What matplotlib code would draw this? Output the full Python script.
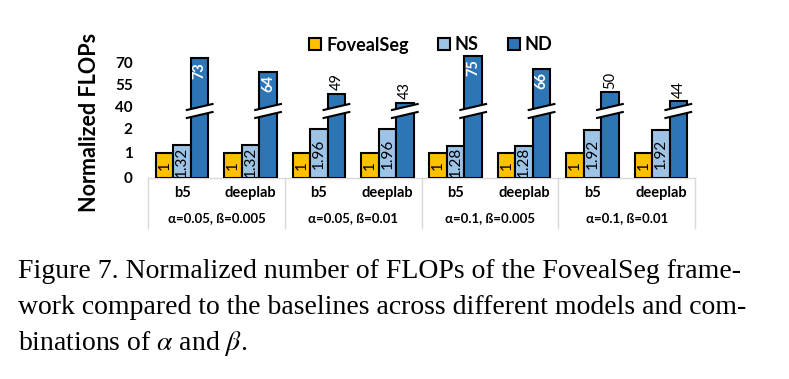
import numpy as np
import matplotlib
matplotlib.use('Agg')
import matplotlib.pyplot as plt
from matplotlib.patches import Polygon

plt.rcParams['font.family'] = ['Lato', 'DejaVu Sans']
plt.rcParams['mathtext.fontset'] = 'stix'

# Data
models = ['b5', 'deeplab', 'b5', 'deeplab', 'b5', 'deeplab', 'b5', 'deeplab']
groups = ['α=0.05, ß=0.005', 'α=0.05, ß=0.01', 'α=0.1, ß=0.005', 'α=0.1, ß=0.01']
foveal = [1, 1, 1, 1, 1, 1, 1, 1]
ns = [1.32, 1.32, 1.96, 1.96, 1.28, 1.28, 1.92, 1.92]
nd = [73, 64, 49, 43, 75, 66, 50, 44]
yticks = [0, 1, 2, 40, 55, 70]

# broken axis: value -> pixel height above the baseline
val_pts = [0, 2, 40, 100]
pix_pts = [0, 50, 71, 159.2]
def fwd(v):
    return np.interp(v, val_pts, pix_pts)
def inv(p):
    return np.interp(p, pix_pts, val_pts)

c_fov = '#FFC000'
c_ns = '#9DC3E6'
c_nd = '#2E75B6'

fig = plt.figure(figsize=(7.89, 3.79), dpi=100)
ymax = 77
ax = fig.add_axes([148/789, (379-178)/379, 547/789, fwd(ymax)/379])
ax.set_yscale('function', functions=(fwd, inv))

x = np.arange(len(models))
w = 0.256
ax.bar(x - w, foveal, w, color=c_fov, edgecolor='black', linewidth=1.5, label='FovealSeg', zorder=2)
ax.bar(x, ns, w, color=c_ns, edgecolor='black', linewidth=1.5, label='NS', zorder=2)
ax.bar(x + w, nd, w, color=c_nd, edgecolor='black', linewidth=1.5, label='ND', zorder=2)

# value labels
for i in range(len(models)):
    ax.text(x[i] - w, inv(fwd(foveal[i]) / 2), str(foveal[i]), rotation=90,
            ha='center', va='center', fontsize=11, zorder=5)
    ax.text(x[i], inv(fwd(ns[i]) / 2), '%.2f' % ns[i], rotation=90,
            ha='center', va='center', fontsize=11, zorder=5)
    if nd[i] > 60:
        ax.text(x[i] + w, inv(fwd(nd[i]) - 12), str(nd[i]), rotation=90, color='white',
                fontweight='bold', ha='center', va='center', fontsize=10.5, zorder=5)
    else:
        ax.text(x[i] + w, inv(fwd(nd[i]) + 12), str(nd[i]), rotation=90,
                ha='center', va='center', fontsize=10.5, zorder=5)

# break marks on the ND bars
for i in range(len(models)):
    xl = x[i] + w / 2 - 0.06
    xr = x[i] + 1.5 * w + 0.06
    band = Polygon([(xl, inv(60)), (xr, inv(66)), (xr, inv(74)), (xl, inv(68))],
                   closed=True, facecolor='white', edgecolor='none', zorder=3, clip_on=False)
    ax.add_patch(band)
    ax.plot([xl, xr], [inv(68), inv(74)], color='black', lw=1.5, zorder=4, clip_on=False)
    ax.plot([xl, xr], [inv(60), inv(66)], color='black', lw=1.5, zorder=4, clip_on=False)

ax.set_xlim(-0.5, 7.5)
ax.set_ylim(0, ymax)
ax.set_yticks(yticks)
ax.set_yticklabels([str(t) for t in yticks], fontsize=11, fontweight='bold')
ax.tick_params(axis='y', length=0, pad=11)
ax.set_xticks([])
for s in ax.spines.values():
    s.set_visible(False)

# table below the bars
ax.axhline(0, color='#d9d9d9', lw=1, zorder=1, clip_on=False)
for xb in [-0.5, 1.5, 3.5, 5.5, 7.5]:
    ax.plot([xb, xb], [0, -50 / fwd(ymax)], color='#d9d9d9', lw=1,
            transform=ax.get_xaxis_transform(), clip_on=False)
for i, m in enumerate(models):
    ax.annotate(m, xy=(x[i], 0), xycoords=('data', 'axes fraction'), xytext=(0, -15 * 0.72),
                textcoords='offset points', ha='center', va='center', fontsize=10.5, fontweight='bold')
for j, g in enumerate(groups):
    ax.annotate(g, xy=(2 * j + 0.5, 0), xycoords=('data', 'axes fraction'), xytext=(0, -40 * 0.72),
                textcoords='offset points', ha='center', va='center', fontsize=9.5, fontweight='bold')

fig.text(90/789, 1 - 122/379, 'Normalized FLOPs', rotation=90, ha='center', va='center',
         fontsize=15.5, fontweight='bold')

fig.legend(loc='center', bbox_to_anchor=(431/789, 1 - 45/379), ncol=3, frameon=False,
           prop={'size': 13, 'weight': 'bold'}, handlelength=0.65, handleheight=0.65,
           handletextpad=0.3, columnspacing=1.6, borderaxespad=0)

# caption
cap = ['Figure 7. Normalized number of FLOPs of the FovealSeg frame-',
       'work compared to the baselines across different models and com-',
       r'binations of $\alpha$ and $\beta$.']
for k, line in enumerate(cap):
    fig.text(18/789, 1 - (272 + 35.5 * k)/379, line, ha='left', va='center',
             family='Liberation Serif', fontsize=20)

fig.savefig('out.png', dpi=100)
